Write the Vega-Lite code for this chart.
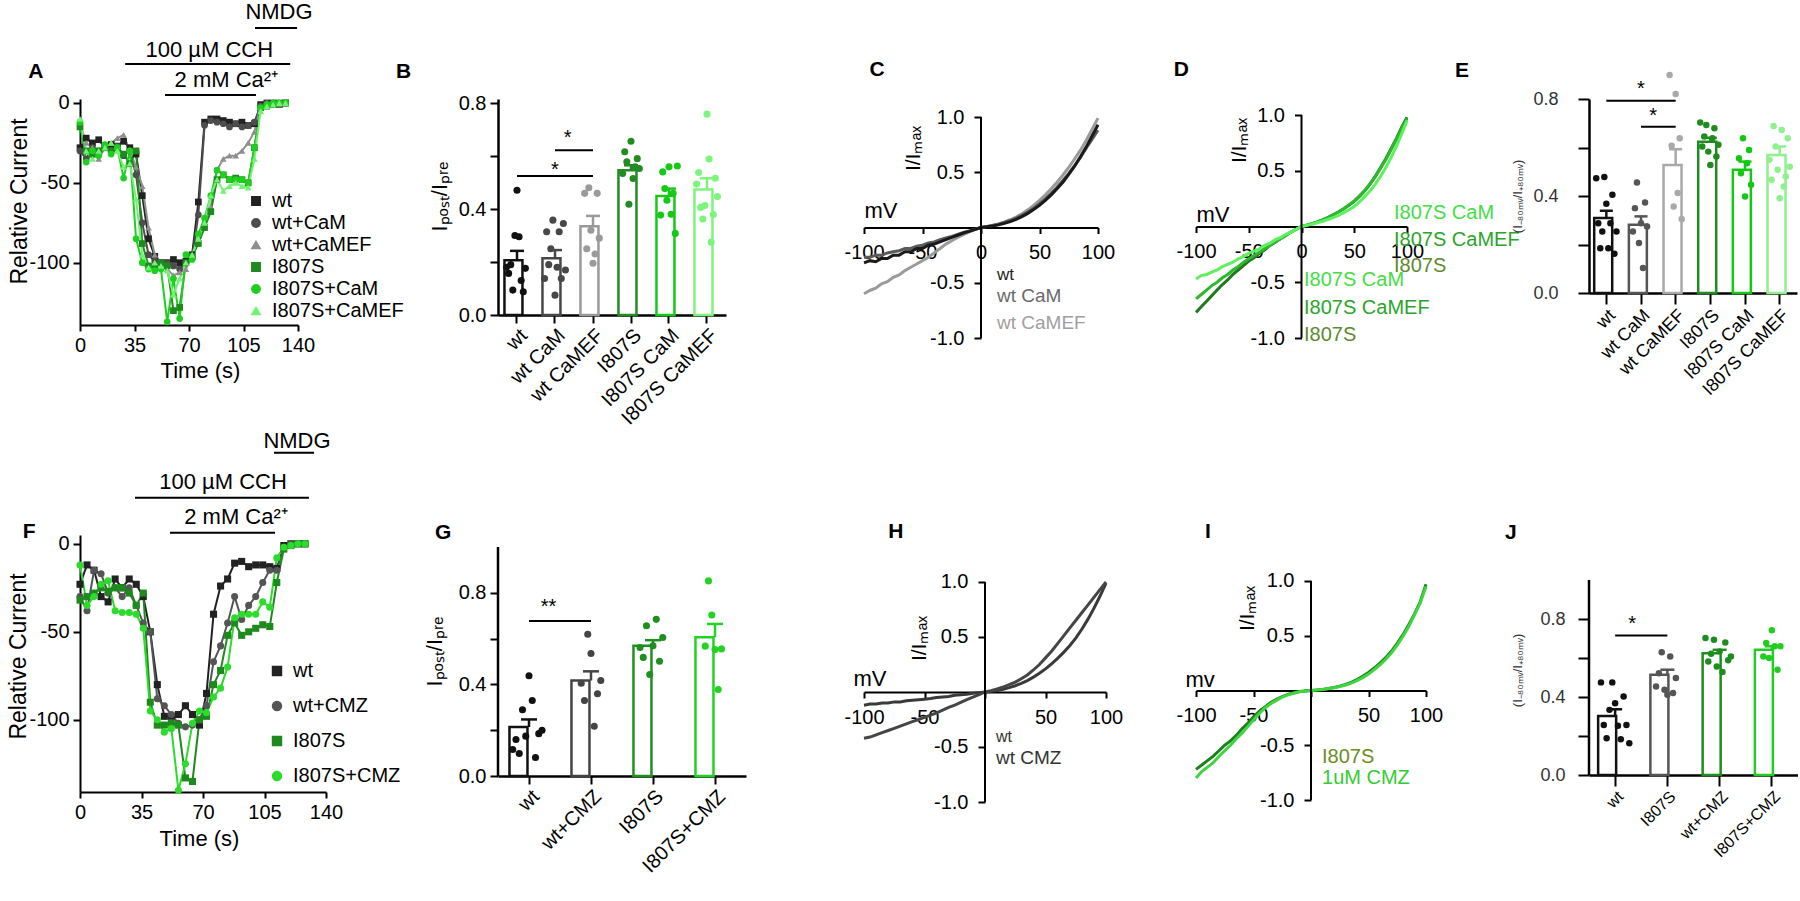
{
"$schema": "https://vega.github.io/schema/vega-lite/v6.json",
"background": "#ffffff",
"padding": 0,
"columns": 10,
"spacing": 0,
"align": "each",
"bounds": "flush",
"resolve": {"scale": {"fill": "independent", "stroke": "independent", "shape": "independent", "color": "independent", "xOffset": "independent", "x": "independent", "y": "independent"}, "legend": {"fill": "independent", "shape": "independent", "stroke": "independent", "color": "independent"}},
"config": {
  "view": {"stroke": null},
  "font": "Liberation Sans",
  "axis": {"domainColor": "#000", "domainWidth": 2, "tickColor": "#000", "tickWidth": 2, "tickSize": 7, "labelColor": "#000", "titleColor": "#000", "labelFont": "Liberation Sans", "titleFont": "Liberation Sans", "labelFontSize": 20, "titleFontSize": 21, "titleFontWeight": "normal", "grid": false, "labelPadding": 4},
  "legend": {"labelFont": "Liberation Sans", "labelColor": "#000"},
  "title": {"font": "Liberation Sans", "fontSize": 21, "fontWeight": "bold", "anchor": "start", "frame": "group", "color": "#000"}
},
"datasets": {
"tcA": [
{"s":"wt","t":0,"v":-28},{"s":"wt","t":4,"v":-22},{"s":"wt","t":8,"v":-25},{"s":"wt","t":12,"v":-23},{"s":"wt","t":16,"v":-28},{"s":"wt","t":20,"v":-26},{"s":"wt","t":24,"v":-27},{"s":"wt","t":28,"v":-24},{"s":"wt","t":32,"v":-28},{"s":"wt","t":36,"v":-32},{"s":"wt","t":40,"v":-58},{"s":"wt","t":44,"v":-85},{"s":"wt","t":48,"v":-96},{"s":"wt","t":52,"v":-100},{"s":"wt","t":56,"v":-100},{"s":"wt","t":60,"v":-98},{"s":"wt","t":64,"v":-100},{"s":"wt","t":68,"v":-99},{"s":"wt","t":72,"v":-95},{"s":"wt","t":76,"v":-62},{"s":"wt","t":80,"v":-12},{"s":"wt","t":84,"v":-10},{"s":"wt","t":88,"v":-10},{"s":"wt","t":92,"v":-11},{"s":"wt","t":96,"v":-12},{"s":"wt","t":100,"v":-13},{"s":"wt","t":104,"v":-12},{"s":"wt","t":108,"v":-14},{"s":"wt","t":112,"v":-13},{"s":"wt","t":116,"v":-1},{"s":"wt","t":120,"v":0},{"s":"wt","t":124,"v":0},{"s":"wt","t":128,"v":-1},{"s":"wt","t":132,"v":0},
{"s":"wt+CaM","t":0,"v":-30},{"s":"wt+CaM","t":4,"v":-35},{"s":"wt+CaM","t":8,"v":-28},{"s":"wt+CaM","t":12,"v":-30},{"s":"wt+CaM","t":16,"v":-28},{"s":"wt+CaM","t":20,"v":-30},{"s":"wt+CaM","t":24,"v":-27},{"s":"wt+CaM","t":28,"v":-33},{"s":"wt+CaM","t":32,"v":-30},{"s":"wt+CaM","t":36,"v":-45},{"s":"wt+CaM","t":40,"v":-75},{"s":"wt+CaM","t":44,"v":-95},{"s":"wt+CaM","t":48,"v":-99},{"s":"wt+CaM","t":52,"v":-100},{"s":"wt+CaM","t":56,"v":-100},{"s":"wt+CaM","t":60,"v":-102},{"s":"wt+CaM","t":64,"v":-104},{"s":"wt+CaM","t":68,"v":-100},{"s":"wt+CaM","t":72,"v":-97},{"s":"wt+CaM","t":76,"v":-70},{"s":"wt+CaM","t":80,"v":-14},{"s":"wt+CaM","t":84,"v":-11},{"s":"wt+CaM","t":88,"v":-12},{"s":"wt+CaM","t":92,"v":-13},{"s":"wt+CaM","t":96,"v":-15},{"s":"wt+CaM","t":100,"v":-13},{"s":"wt+CaM","t":104,"v":-15},{"s":"wt+CaM","t":108,"v":-14},{"s":"wt+CaM","t":112,"v":-12},{"s":"wt+CaM","t":116,"v":-2},{"s":"wt+CaM","t":120,"v":0},{"s":"wt+CaM","t":124,"v":0},{"s":"wt+CaM","t":128,"v":0},{"s":"wt+CaM","t":132,"v":0},
{"s":"wt+CaMEF","t":0,"v":-13},{"s":"wt+CaMEF","t":4,"v":-25},{"s":"wt+CaMEF","t":8,"v":-28},{"s":"wt+CaMEF","t":12,"v":-35},{"s":"wt+CaMEF","t":16,"v":-28},{"s":"wt+CaMEF","t":20,"v":-25},{"s":"wt+CaMEF","t":24,"v":-22},{"s":"wt+CaMEF","t":28,"v":-20},{"s":"wt+CaMEF","t":32,"v":-30},{"s":"wt+CaMEF","t":36,"v":-40},{"s":"wt+CaMEF","t":40,"v":-52},{"s":"wt+CaMEF","t":44,"v":-78},{"s":"wt+CaMEF","t":48,"v":-95},{"s":"wt+CaMEF","t":52,"v":-100},{"s":"wt+CaMEF","t":56,"v":-104},{"s":"wt+CaMEF","t":60,"v":-108},{"s":"wt+CaMEF","t":64,"v":-106},{"s":"wt+CaMEF","t":68,"v":-104},{"s":"wt+CaMEF","t":72,"v":-95},{"s":"wt+CaMEF","t":76,"v":-85},{"s":"wt+CaMEF","t":80,"v":-75},{"s":"wt+CaMEF","t":84,"v":-65},{"s":"wt+CaMEF","t":88,"v":-42},{"s":"wt+CaMEF","t":92,"v":-35},{"s":"wt+CaMEF","t":96,"v":-33},{"s":"wt+CaMEF","t":100,"v":-33},{"s":"wt+CaMEF","t":104,"v":-30},{"s":"wt+CaMEF","t":108,"v":-25},{"s":"wt+CaMEF","t":112,"v":-18},{"s":"wt+CaMEF","t":116,"v":-2},{"s":"wt+CaMEF","t":120,"v":0},{"s":"wt+CaMEF","t":124,"v":0},{"s":"wt+CaMEF","t":128,"v":-1},{"s":"wt+CaMEF","t":132,"v":0},
{"s":"I807S","t":0,"v":-15},{"s":"I807S","t":4,"v":-30},{"s":"I807S","t":8,"v":-32},{"s":"I807S","t":12,"v":-30},{"s":"I807S","t":16,"v":-28},{"s":"I807S","t":20,"v":-30},{"s":"I807S","t":24,"v":-28},{"s":"I807S","t":28,"v":-32},{"s":"I807S","t":32,"v":-38},{"s":"I807S","t":36,"v":-30},{"s":"I807S","t":40,"v":-88},{"s":"I807S","t":44,"v":-102},{"s":"I807S","t":48,"v":-103},{"s":"I807S","t":52,"v":-100},{"s":"I807S","t":56,"v":-102},{"s":"I807S","t":60,"v":-130},{"s":"I807S","t":64,"v":-128},{"s":"I807S","t":68,"v":-100},{"s":"I807S","t":72,"v":-96},{"s":"I807S","t":76,"v":-88},{"s":"I807S","t":80,"v":-78},{"s":"I807S","t":84,"v":-68},{"s":"I807S","t":88,"v":-48},{"s":"I807S","t":92,"v":-45},{"s":"I807S","t":96,"v":-48},{"s":"I807S","t":100,"v":-47},{"s":"I807S","t":104,"v":-48},{"s":"I807S","t":108,"v":-50},{"s":"I807S","t":112,"v":-28},{"s":"I807S","t":116,"v":-3},{"s":"I807S","t":120,"v":-2},{"s":"I807S","t":124,"v":-1},{"s":"I807S","t":128,"v":0},{"s":"I807S","t":132,"v":0},
{"s":"I807S+CaM","t":0,"v":-12},{"s":"I807S+CaM","t":4,"v":-37},{"s":"I807S+CaM","t":8,"v":-30},{"s":"I807S+CaM","t":12,"v":-33},{"s":"I807S+CaM","t":16,"v":-26},{"s":"I807S+CaM","t":20,"v":-32},{"s":"I807S+CaM","t":24,"v":-28},{"s":"I807S+CaM","t":28,"v":-47},{"s":"I807S+CaM","t":32,"v":-30},{"s":"I807S+CaM","t":36,"v":-85},{"s":"I807S+CaM","t":40,"v":-100},{"s":"I807S+CaM","t":44,"v":-104},{"s":"I807S+CaM","t":48,"v":-105},{"s":"I807S+CaM","t":52,"v":-104},{"s":"I807S+CaM","t":56,"v":-137},{"s":"I807S+CaM","t":60,"v":-110},{"s":"I807S+CaM","t":64,"v":-135},{"s":"I807S+CaM","t":68,"v":-95},{"s":"I807S+CaM","t":72,"v":-98},{"s":"I807S+CaM","t":76,"v":-82},{"s":"I807S+CaM","t":80,"v":-72},{"s":"I807S+CaM","t":84,"v":-58},{"s":"I807S+CaM","t":88,"v":-42},{"s":"I807S+CaM","t":92,"v":-45},{"s":"I807S+CaM","t":96,"v":-48},{"s":"I807S+CaM","t":100,"v":-48},{"s":"I807S+CaM","t":104,"v":-48},{"s":"I807S+CaM","t":108,"v":-50},{"s":"I807S+CaM","t":112,"v":-28},{"s":"I807S+CaM","t":116,"v":-3},{"s":"I807S+CaM","t":120,"v":-1},{"s":"I807S+CaM","t":124,"v":0},{"s":"I807S+CaM","t":128,"v":0},{"s":"I807S+CaM","t":132,"v":0},
{"s":"I807S+CaMEF","t":0,"v":-10},{"s":"I807S+CaMEF","t":4,"v":-30},{"s":"I807S+CaMEF","t":8,"v":-35},{"s":"I807S+CaMEF","t":12,"v":-30},{"s":"I807S+CaMEF","t":16,"v":-28},{"s":"I807S+CaMEF","t":20,"v":-25},{"s":"I807S+CaMEF","t":24,"v":-30},{"s":"I807S+CaMEF","t":28,"v":-40},{"s":"I807S+CaMEF","t":32,"v":-38},{"s":"I807S+CaMEF","t":36,"v":-60},{"s":"I807S+CaMEF","t":40,"v":-95},{"s":"I807S+CaMEF","t":44,"v":-103},{"s":"I807S+CaMEF","t":48,"v":-100},{"s":"I807S+CaMEF","t":52,"v":-102},{"s":"I807S+CaMEF","t":56,"v":-105},{"s":"I807S+CaMEF","t":60,"v":-120},{"s":"I807S+CaMEF","t":64,"v":-110},{"s":"I807S+CaMEF","t":68,"v":-100},{"s":"I807S+CaMEF","t":72,"v":-95},{"s":"I807S+CaMEF","t":76,"v":-85},{"s":"I807S+CaMEF","t":80,"v":-75},{"s":"I807S+CaMEF","t":84,"v":-58},{"s":"I807S+CaMEF","t":88,"v":-48},{"s":"I807S+CaMEF","t":92,"v":-55},{"s":"I807S+CaMEF","t":96,"v":-52},{"s":"I807S+CaMEF","t":100,"v":-50},{"s":"I807S+CaMEF","t":104,"v":-52},{"s":"I807S+CaMEF","t":108,"v":-53},{"s":"I807S+CaMEF","t":112,"v":-35},{"s":"I807S+CaMEF","t":116,"v":-5},{"s":"I807S+CaMEF","t":120,"v":-2},{"s":"I807S+CaMEF","t":124,"v":-1},{"s":"I807S+CaMEF","t":128,"v":0},{"s":"I807S+CaMEF","t":132,"v":0}
],
"tcF": [
{"s":"wt","t":0,"v":-23},{"s":"wt","t":4,"v":-12},{"s":"wt","t":8,"v":-15},{"s":"wt","t":12,"v":-30},{"s":"wt","t":16,"v":-33},{"s":"wt","t":20,"v":-20},{"s":"wt","t":24,"v":-25},{"s":"wt","t":28,"v":-20},{"s":"wt","t":32,"v":-23},{"s":"wt","t":36,"v":-30},{"s":"wt","t":40,"v":-50},{"s":"wt","t":44,"v":-80},{"s":"wt","t":48,"v":-98},{"s":"wt","t":52,"v":-98},{"s":"wt","t":56,"v":-97},{"s":"wt","t":60,"v":-92},{"s":"wt","t":64,"v":-97},{"s":"wt","t":68,"v":-103},{"s":"wt","t":72,"v":-85},{"s":"wt","t":76,"v":-40},{"s":"wt","t":80,"v":-24},{"s":"wt","t":84,"v":-20},{"s":"wt","t":88,"v":-11},{"s":"wt","t":92,"v":-10},{"s":"wt","t":96,"v":-13},{"s":"wt","t":100,"v":-12},{"s":"wt","t":104,"v":-12},{"s":"wt","t":108,"v":-13},{"s":"wt","t":112,"v":-14},{"s":"wt","t":116,"v":-1},{"s":"wt","t":120,"v":0},{"s":"wt","t":124,"v":0},{"s":"wt","t":128,"v":0},
{"s":"wt+CMZ","t":0,"v":-30},{"s":"wt+CMZ","t":4,"v":-38},{"s":"wt+CMZ","t":8,"v":-15},{"s":"wt+CMZ","t":12,"v":-17},{"s":"wt+CMZ","t":16,"v":-28},{"s":"wt+CMZ","t":20,"v":-25},{"s":"wt+CMZ","t":24,"v":-30},{"s":"wt+CMZ","t":28,"v":-25},{"s":"wt+CMZ","t":32,"v":-35},{"s":"wt+CMZ","t":36,"v":-45},{"s":"wt+CMZ","t":40,"v":-50},{"s":"wt+CMZ","t":44,"v":-88},{"s":"wt+CMZ","t":48,"v":-92},{"s":"wt+CMZ","t":52,"v":-97},{"s":"wt+CMZ","t":56,"v":-102},{"s":"wt+CMZ","t":60,"v":-104},{"s":"wt+CMZ","t":64,"v":-103},{"s":"wt+CMZ","t":68,"v":-100},{"s":"wt+CMZ","t":72,"v":-92},{"s":"wt+CMZ","t":76,"v":-67},{"s":"wt+CMZ","t":80,"v":-58},{"s":"wt+CMZ","t":84,"v":-45},{"s":"wt+CMZ","t":88,"v":-30},{"s":"wt+CMZ","t":92,"v":-43},{"s":"wt+CMZ","t":96,"v":-35},{"s":"wt+CMZ","t":100,"v":-30},{"s":"wt+CMZ","t":104,"v":-22},{"s":"wt+CMZ","t":108,"v":-15},{"s":"wt+CMZ","t":112,"v":-15},{"s":"wt+CMZ","t":116,"v":-2},{"s":"wt+CMZ","t":120,"v":0},{"s":"wt+CMZ","t":124,"v":0},{"s":"wt+CMZ","t":128,"v":0},
{"s":"I807S","t":0,"v":-32},{"s":"I807S","t":4,"v":-30},{"s":"I807S","t":8,"v":-28},{"s":"I807S","t":12,"v":-25},{"s":"I807S","t":16,"v":-27},{"s":"I807S","t":20,"v":-25},{"s":"I807S","t":24,"v":-25},{"s":"I807S","t":28,"v":-28},{"s":"I807S","t":32,"v":-35},{"s":"I807S","t":36,"v":-28},{"s":"I807S","t":40,"v":-90},{"s":"I807S","t":44,"v":-103},{"s":"I807S","t":48,"v":-103},{"s":"I807S","t":52,"v":-102},{"s":"I807S","t":56,"v":-103},{"s":"I807S","t":60,"v":-133},{"s":"I807S","t":64,"v":-135},{"s":"I807S","t":68,"v":-100},{"s":"I807S","t":72,"v":-98},{"s":"I807S","t":76,"v":-80},{"s":"I807S","t":80,"v":-72},{"s":"I807S","t":84,"v":-52},{"s":"I807S","t":88,"v":-45},{"s":"I807S","t":92,"v":-52},{"s":"I807S","t":96,"v":-50},{"s":"I807S","t":100,"v":-48},{"s":"I807S","t":104,"v":-46},{"s":"I807S","t":108,"v":-47},{"s":"I807S","t":112,"v":-22},{"s":"I807S","t":116,"v":-3},{"s":"I807S","t":120,"v":-1},{"s":"I807S","t":124,"v":0},{"s":"I807S","t":128,"v":0},
{"s":"I807S+CMZ","t":0,"v":-12},{"s":"I807S+CMZ","t":4,"v":-35},{"s":"I807S+CMZ","t":8,"v":-30},{"s":"I807S+CMZ","t":12,"v":-23},{"s":"I807S+CMZ","t":16,"v":-21},{"s":"I807S+CMZ","t":20,"v":-38},{"s":"I807S+CMZ","t":24,"v":-39},{"s":"I807S+CMZ","t":28,"v":-39},{"s":"I807S+CMZ","t":32,"v":-40},{"s":"I807S+CMZ","t":36,"v":-48},{"s":"I807S+CMZ","t":40,"v":-95},{"s":"I807S+CMZ","t":44,"v":-100},{"s":"I807S+CMZ","t":48,"v":-107},{"s":"I807S+CMZ","t":52,"v":-105},{"s":"I807S+CMZ","t":56,"v":-140},{"s":"I807S+CMZ","t":60,"v":-125},{"s":"I807S+CMZ","t":64,"v":-102},{"s":"I807S+CMZ","t":68,"v":-95},{"s":"I807S+CMZ","t":72,"v":-96},{"s":"I807S+CMZ","t":76,"v":-87},{"s":"I807S+CMZ","t":80,"v":-82},{"s":"I807S+CMZ","t":84,"v":-70},{"s":"I807S+CMZ","t":88,"v":-42},{"s":"I807S+CMZ","t":92,"v":-40},{"s":"I807S+CMZ","t":96,"v":-40},{"s":"I807S+CMZ","t":100,"v":-40},{"s":"I807S+CMZ","t":104,"v":-33},{"s":"I807S+CMZ","t":108,"v":-36},{"s":"I807S+CMZ","t":112,"v":-8},{"s":"I807S+CMZ","t":116,"v":-2},{"s":"I807S+CMZ","t":120,"v":-1},{"s":"I807S+CMZ","t":124,"v":0},{"s":"I807S+CMZ","t":128,"v":0}
],
"ivC": [
{"s":"wt CaMEF","v":-100,"i":-0.6},{"s":"wt CaMEF","v":-95,"i":-0.57},{"s":"wt CaMEF","v":-90,"i":-0.55},{"s":"wt CaMEF","v":-85,"i":-0.51},{"s":"wt CaMEF","v":-80,"i":-0.49},{"s":"wt CaMEF","v":-75,"i":-0.45},{"s":"wt CaMEF","v":-70,"i":-0.43},{"s":"wt CaMEF","v":-65,"i":-0.39},{"s":"wt CaMEF","v":-60,"i":-0.36},{"s":"wt CaMEF","v":-55,"i":-0.33},{"s":"wt CaMEF","v":-50,"i":-0.3},{"s":"wt CaMEF","v":-45,"i":-0.27},{"s":"wt CaMEF","v":-40,"i":-0.23},{"s":"wt CaMEF","v":-35,"i":-0.19},{"s":"wt CaMEF","v":-30,"i":-0.15},{"s":"wt CaMEF","v":-25,"i":-0.12},{"s":"wt CaMEF","v":-20,"i":-0.09},{"s":"wt CaMEF","v":-15,"i":-0.065},{"s":"wt CaMEF","v":-10,"i":-0.04},{"s":"wt CaMEF","v":-5,"i":-0.02},{"s":"wt CaMEF","v":0,"i":0},{"s":"wt CaMEF","v":5,"i":0.01},{"s":"wt CaMEF","v":10,"i":0.02},{"s":"wt CaMEF","v":15,"i":0.033},{"s":"wt CaMEF","v":20,"i":0.05},{"s":"wt CaMEF","v":25,"i":0.07},{"s":"wt CaMEF","v":30,"i":0.095},{"s":"wt CaMEF","v":35,"i":0.125},{"s":"wt CaMEF","v":40,"i":0.16},{"s":"wt CaMEF","v":45,"i":0.2},{"s":"wt CaMEF","v":50,"i":0.245},{"s":"wt CaMEF","v":55,"i":0.295},{"s":"wt CaMEF","v":60,"i":0.35},{"s":"wt CaMEF","v":65,"i":0.41},{"s":"wt CaMEF","v":70,"i":0.475},{"s":"wt CaMEF","v":75,"i":0.545},{"s":"wt CaMEF","v":80,"i":0.62},{"s":"wt CaMEF","v":85,"i":0.7},{"s":"wt CaMEF","v":90,"i":0.79},{"s":"wt CaMEF","v":95,"i":0.89},{"s":"wt CaMEF","v":100,"i":0.99},
{"s":"wt CaM","v":-100,"i":-0.27},{"s":"wt CaM","v":-95,"i":-0.27},{"s":"wt CaM","v":-90,"i":-0.25},{"s":"wt CaM","v":-85,"i":-0.25},{"s":"wt CaM","v":-80,"i":-0.23},{"s":"wt CaM","v":-75,"i":-0.22},{"s":"wt CaM","v":-70,"i":-0.21},{"s":"wt CaM","v":-65,"i":-0.19},{"s":"wt CaM","v":-60,"i":-0.19},{"s":"wt CaM","v":-55,"i":-0.17},{"s":"wt CaM","v":-50,"i":-0.16},{"s":"wt CaM","v":-45,"i":-0.14},{"s":"wt CaM","v":-40,"i":-0.13},{"s":"wt CaM","v":-35,"i":-0.11},{"s":"wt CaM","v":-30,"i":-0.095},{"s":"wt CaM","v":-25,"i":-0.08},{"s":"wt CaM","v":-20,"i":-0.063},{"s":"wt CaM","v":-15,"i":-0.045},{"s":"wt CaM","v":-10,"i":-0.03},{"s":"wt CaM","v":-5,"i":-0.015},{"s":"wt CaM","v":0,"i":0},{"s":"wt CaM","v":5,"i":0.008},{"s":"wt CaM","v":10,"i":0.018},{"s":"wt CaM","v":15,"i":0.03},{"s":"wt CaM","v":20,"i":0.045},{"s":"wt CaM","v":25,"i":0.063},{"s":"wt CaM","v":30,"i":0.085},{"s":"wt CaM","v":35,"i":0.11},{"s":"wt CaM","v":40,"i":0.14},{"s":"wt CaM","v":45,"i":0.175},{"s":"wt CaM","v":50,"i":0.215},{"s":"wt CaM","v":55,"i":0.26},{"s":"wt CaM","v":60,"i":0.31},{"s":"wt CaM","v":65,"i":0.365},{"s":"wt CaM","v":70,"i":0.425},{"s":"wt CaM","v":75,"i":0.49},{"s":"wt CaM","v":80,"i":0.56},{"s":"wt CaM","v":85,"i":0.635},{"s":"wt CaM","v":90,"i":0.72},{"s":"wt CaM","v":95,"i":0.8},{"s":"wt CaM","v":100,"i":0.88},
{"s":"wt","v":-100,"i":-0.32},{"s":"wt","v":-95,"i":-0.3},{"s":"wt","v":-90,"i":-0.31},{"s":"wt","v":-85,"i":-0.28},{"s":"wt","v":-80,"i":-0.28},{"s":"wt","v":-75,"i":-0.25},{"s":"wt","v":-70,"i":-0.25},{"s":"wt","v":-65,"i":-0.22},{"s":"wt","v":-60,"i":-0.22},{"s":"wt","v":-55,"i":-0.19},{"s":"wt","v":-50,"i":-0.19},{"s":"wt","v":-45,"i":-0.16},{"s":"wt","v":-40,"i":-0.15},{"s":"wt","v":-35,"i":-0.13},{"s":"wt","v":-30,"i":-0.11},{"s":"wt","v":-25,"i":-0.09},{"s":"wt","v":-20,"i":-0.07},{"s":"wt","v":-15,"i":-0.05},{"s":"wt","v":-10,"i":-0.035},{"s":"wt","v":-5,"i":-0.017},{"s":"wt","v":0,"i":0},{"s":"wt","v":5,"i":0.006},{"s":"wt","v":10,"i":0.014},{"s":"wt","v":15,"i":0.024},{"s":"wt","v":20,"i":0.037},{"s":"wt","v":25,"i":0.053},{"s":"wt","v":30,"i":0.073},{"s":"wt","v":35,"i":0.098},{"s":"wt","v":40,"i":0.128},{"s":"wt","v":45,"i":0.163},{"s":"wt","v":50,"i":0.2},{"s":"wt","v":55,"i":0.245},{"s":"wt","v":60,"i":0.295},{"s":"wt","v":65,"i":0.35},{"s":"wt","v":70,"i":0.41},{"s":"wt","v":75,"i":0.48},{"s":"wt","v":80,"i":0.555},{"s":"wt","v":85,"i":0.64},{"s":"wt","v":90,"i":0.73},{"s":"wt","v":95,"i":0.83},{"s":"wt","v":100,"i":0.93}
],
"ivD": [
{"s":"I807S","v":-100,"i":-0.77},{"s":"I807S","v":-95,"i":-0.72},{"s":"I807S","v":-90,"i":-0.67},{"s":"I807S","v":-85,"i":-0.62},{"s":"I807S","v":-80,"i":-0.57},{"s":"I807S","v":-75,"i":-0.52},{"s":"I807S","v":-70,"i":-0.48},{"s":"I807S","v":-65,"i":-0.43},{"s":"I807S","v":-60,"i":-0.39},{"s":"I807S","v":-55,"i":-0.35},{"s":"I807S","v":-50,"i":-0.31},{"s":"I807S","v":-45,"i":-0.28},{"s":"I807S","v":-40,"i":-0.24},{"s":"I807S","v":-35,"i":-0.21},{"s":"I807S","v":-30,"i":-0.17},{"s":"I807S","v":-25,"i":-0.14},{"s":"I807S","v":-20,"i":-0.11},{"s":"I807S","v":-15,"i":-0.08},{"s":"I807S","v":-10,"i":-0.05},{"s":"I807S","v":-5,"i":-0.025},{"s":"I807S","v":0,"i":0},{"s":"I807S","v":5,"i":0.012},{"s":"I807S","v":10,"i":0.026},{"s":"I807S","v":15,"i":0.042},{"s":"I807S","v":20,"i":0.06},{"s":"I807S","v":25,"i":0.08},{"s":"I807S","v":30,"i":0.105},{"s":"I807S","v":35,"i":0.13},{"s":"I807S","v":40,"i":0.16},{"s":"I807S","v":45,"i":0.19},{"s":"I807S","v":50,"i":0.225},{"s":"I807S","v":55,"i":0.27},{"s":"I807S","v":60,"i":0.32},{"s":"I807S","v":65,"i":0.38},{"s":"I807S","v":70,"i":0.45},{"s":"I807S","v":75,"i":0.53},{"s":"I807S","v":80,"i":0.61},{"s":"I807S","v":85,"i":0.7},{"s":"I807S","v":90,"i":0.79},{"s":"I807S","v":95,"i":0.89},{"s":"I807S","v":100,"i":0.98},
{"s":"I807S CaMEF","v":-100,"i":-0.65},{"s":"I807S CaMEF","v":-95,"i":-0.61},{"s":"I807S CaMEF","v":-90,"i":-0.57},{"s":"I807S CaMEF","v":-85,"i":-0.53},{"s":"I807S CaMEF","v":-80,"i":-0.5},{"s":"I807S CaMEF","v":-75,"i":-0.46},{"s":"I807S CaMEF","v":-70,"i":-0.43},{"s":"I807S CaMEF","v":-65,"i":-0.39},{"s":"I807S CaMEF","v":-60,"i":-0.36},{"s":"I807S CaMEF","v":-55,"i":-0.32},{"s":"I807S CaMEF","v":-50,"i":-0.29},{"s":"I807S CaMEF","v":-45,"i":-0.26},{"s":"I807S CaMEF","v":-40,"i":-0.23},{"s":"I807S CaMEF","v":-35,"i":-0.2},{"s":"I807S CaMEF","v":-30,"i":-0.17},{"s":"I807S CaMEF","v":-25,"i":-0.14},{"s":"I807S CaMEF","v":-20,"i":-0.11},{"s":"I807S CaMEF","v":-15,"i":-0.08},{"s":"I807S CaMEF","v":-10,"i":-0.05},{"s":"I807S CaMEF","v":-5,"i":-0.025},{"s":"I807S CaMEF","v":0,"i":0},{"s":"I807S CaMEF","v":5,"i":0.012},{"s":"I807S CaMEF","v":10,"i":0.026},{"s":"I807S CaMEF","v":15,"i":0.042},{"s":"I807S CaMEF","v":20,"i":0.06},{"s":"I807S CaMEF","v":25,"i":0.08},{"s":"I807S CaMEF","v":30,"i":0.105},{"s":"I807S CaMEF","v":35,"i":0.13},{"s":"I807S CaMEF","v":40,"i":0.16},{"s":"I807S CaMEF","v":45,"i":0.195},{"s":"I807S CaMEF","v":50,"i":0.23},{"s":"I807S CaMEF","v":55,"i":0.275},{"s":"I807S CaMEF","v":60,"i":0.325},{"s":"I807S CaMEF","v":65,"i":0.385},{"s":"I807S CaMEF","v":70,"i":0.45},{"s":"I807S CaMEF","v":75,"i":0.525},{"s":"I807S CaMEF","v":80,"i":0.6},{"s":"I807S CaMEF","v":85,"i":0.69},{"s":"I807S CaMEF","v":90,"i":0.78},{"s":"I807S CaMEF","v":95,"i":0.88},{"s":"I807S CaMEF","v":100,"i":0.97},
{"s":"I807S CaM","v":-100,"i":-0.47},{"s":"I807S CaM","v":-95,"i":-0.44},{"s":"I807S CaM","v":-90,"i":-0.43},{"s":"I807S CaM","v":-85,"i":-0.41},{"s":"I807S CaM","v":-80,"i":-0.39},{"s":"I807S CaM","v":-75,"i":-0.36},{"s":"I807S CaM","v":-70,"i":-0.34},{"s":"I807S CaM","v":-65,"i":-0.32},{"s":"I807S CaM","v":-60,"i":-0.29},{"s":"I807S CaM","v":-55,"i":-0.27},{"s":"I807S CaM","v":-50,"i":-0.24},{"s":"I807S CaM","v":-45,"i":-0.22},{"s":"I807S CaM","v":-40,"i":-0.2},{"s":"I807S CaM","v":-35,"i":-0.17},{"s":"I807S CaM","v":-30,"i":-0.15},{"s":"I807S CaM","v":-25,"i":-0.12},{"s":"I807S CaM","v":-20,"i":-0.1},{"s":"I807S CaM","v":-15,"i":-0.07},{"s":"I807S CaM","v":-10,"i":-0.05},{"s":"I807S CaM","v":-5,"i":-0.025},{"s":"I807S CaM","v":0,"i":0},{"s":"I807S CaM","v":5,"i":0.01},{"s":"I807S CaM","v":10,"i":0.02},{"s":"I807S CaM","v":15,"i":0.033},{"s":"I807S CaM","v":20,"i":0.047},{"s":"I807S CaM","v":25,"i":0.063},{"s":"I807S CaM","v":30,"i":0.08},{"s":"I807S CaM","v":35,"i":0.1},{"s":"I807S CaM","v":40,"i":0.125},{"s":"I807S CaM","v":45,"i":0.15},{"s":"I807S CaM","v":50,"i":0.18},{"s":"I807S CaM","v":55,"i":0.22},{"s":"I807S CaM","v":60,"i":0.27},{"s":"I807S CaM","v":65,"i":0.32},{"s":"I807S CaM","v":70,"i":0.38},{"s":"I807S CaM","v":75,"i":0.45},{"s":"I807S CaM","v":80,"i":0.53},{"s":"I807S CaM","v":85,"i":0.62},{"s":"I807S CaM","v":90,"i":0.72},{"s":"I807S CaM","v":95,"i":0.83},{"s":"I807S CaM","v":100,"i":0.95}
],
"ivH": [
{"s":"wt","v":-100,"i":-0.12},{"s":"wt","v":-95,"i":-0.11},{"s":"wt","v":-90,"i":-0.11},{"s":"wt","v":-85,"i":-0.1},{"s":"wt","v":-80,"i":-0.1},{"s":"wt","v":-75,"i":-0.09},{"s":"wt","v":-70,"i":-0.09},{"s":"wt","v":-65,"i":-0.08},{"s":"wt","v":-60,"i":-0.075},{"s":"wt","v":-55,"i":-0.07},{"s":"wt","v":-50,"i":-0.065},{"s":"wt","v":-45,"i":-0.06},{"s":"wt","v":-40,"i":-0.05},{"s":"wt","v":-35,"i":-0.045},{"s":"wt","v":-30,"i":-0.04},{"s":"wt","v":-25,"i":-0.03},{"s":"wt","v":-20,"i":-0.025},{"s":"wt","v":-15,"i":-0.02},{"s":"wt","v":-10,"i":-0.012},{"s":"wt","v":-5,"i":-0.006},{"s":"wt","v":0,"i":0},{"s":"wt","v":5,"i":0.006},{"s":"wt","v":10,"i":0.014},{"s":"wt","v":15,"i":0.025},{"s":"wt","v":20,"i":0.04},{"s":"wt","v":25,"i":0.057},{"s":"wt","v":30,"i":0.078},{"s":"wt","v":35,"i":0.104},{"s":"wt","v":40,"i":0.135},{"s":"wt","v":45,"i":0.17},{"s":"wt","v":50,"i":0.21},{"s":"wt","v":55,"i":0.255},{"s":"wt","v":60,"i":0.305},{"s":"wt","v":65,"i":0.36},{"s":"wt","v":70,"i":0.42},{"s":"wt","v":75,"i":0.49},{"s":"wt","v":80,"i":0.57},{"s":"wt","v":85,"i":0.66},{"s":"wt","v":90,"i":0.76},{"s":"wt","v":95,"i":0.87},{"s":"wt","v":100,"i":0.99},
{"s":"wt CMZ","v":-100,"i":-0.42},{"s":"wt CMZ","v":-95,"i":-0.41},{"s":"wt CMZ","v":-90,"i":-0.39},{"s":"wt CMZ","v":-85,"i":-0.37},{"s":"wt CMZ","v":-80,"i":-0.35},{"s":"wt CMZ","v":-75,"i":-0.33},{"s":"wt CMZ","v":-70,"i":-0.31},{"s":"wt CMZ","v":-65,"i":-0.29},{"s":"wt CMZ","v":-60,"i":-0.27},{"s":"wt CMZ","v":-55,"i":-0.25},{"s":"wt CMZ","v":-50,"i":-0.23},{"s":"wt CMZ","v":-45,"i":-0.21},{"s":"wt CMZ","v":-40,"i":-0.19},{"s":"wt CMZ","v":-35,"i":-0.165},{"s":"wt CMZ","v":-30,"i":-0.14},{"s":"wt CMZ","v":-25,"i":-0.12},{"s":"wt CMZ","v":-20,"i":-0.095},{"s":"wt CMZ","v":-15,"i":-0.07},{"s":"wt CMZ","v":-10,"i":-0.047},{"s":"wt CMZ","v":-5,"i":-0.023},{"s":"wt CMZ","v":0,"i":0},{"s":"wt CMZ","v":5,"i":0.012},{"s":"wt CMZ","v":10,"i":0.027},{"s":"wt CMZ","v":15,"i":0.045},{"s":"wt CMZ","v":20,"i":0.066},{"s":"wt CMZ","v":25,"i":0.09},{"s":"wt CMZ","v":30,"i":0.12},{"s":"wt CMZ","v":35,"i":0.155},{"s":"wt CMZ","v":40,"i":0.2},{"s":"wt CMZ","v":45,"i":0.25},{"s":"wt CMZ","v":50,"i":0.31},{"s":"wt CMZ","v":55,"i":0.37},{"s":"wt CMZ","v":60,"i":0.44},{"s":"wt CMZ","v":65,"i":0.51},{"s":"wt CMZ","v":70,"i":0.58},{"s":"wt CMZ","v":75,"i":0.65},{"s":"wt CMZ","v":80,"i":0.72},{"s":"wt CMZ","v":85,"i":0.79},{"s":"wt CMZ","v":90,"i":0.86},{"s":"wt CMZ","v":95,"i":0.93},{"s":"wt CMZ","v":100,"i":1.0}
],
"ivI": [
{"s":"I807S","v":-100,"i":-0.72},{"s":"I807S","v":-95,"i":-0.68},{"s":"I807S","v":-90,"i":-0.64},{"s":"I807S","v":-85,"i":-0.6},{"s":"I807S","v":-80,"i":-0.55},{"s":"I807S","v":-75,"i":-0.5},{"s":"I807S","v":-70,"i":-0.46},{"s":"I807S","v":-65,"i":-0.41},{"s":"I807S","v":-60,"i":-0.35},{"s":"I807S","v":-55,"i":-0.3},{"s":"I807S","v":-50,"i":-0.24},{"s":"I807S","v":-45,"i":-0.19},{"s":"I807S","v":-40,"i":-0.15},{"s":"I807S","v":-35,"i":-0.11},{"s":"I807S","v":-30,"i":-0.08},{"s":"I807S","v":-25,"i":-0.055},{"s":"I807S","v":-20,"i":-0.035},{"s":"I807S","v":-15,"i":-0.02},{"s":"I807S","v":-10,"i":-0.01},{"s":"I807S","v":-5,"i":-0.004},{"s":"I807S","v":0,"i":0},{"s":"I807S","v":5,"i":0.004},{"s":"I807S","v":10,"i":0.01},{"s":"I807S","v":15,"i":0.018},{"s":"I807S","v":20,"i":0.028},{"s":"I807S","v":25,"i":0.04},{"s":"I807S","v":30,"i":0.055},{"s":"I807S","v":35,"i":0.075},{"s":"I807S","v":40,"i":0.1},{"s":"I807S","v":45,"i":0.13},{"s":"I807S","v":50,"i":0.165},{"s":"I807S","v":55,"i":0.205},{"s":"I807S","v":60,"i":0.25},{"s":"I807S","v":65,"i":0.3},{"s":"I807S","v":70,"i":0.36},{"s":"I807S","v":75,"i":0.43},{"s":"I807S","v":80,"i":0.51},{"s":"I807S","v":85,"i":0.6},{"s":"I807S","v":90,"i":0.7},{"s":"I807S","v":95,"i":0.81},{"s":"I807S","v":100,"i":0.97},
{"s":"1uM CMZ","v":-100,"i":-0.8},{"s":"1uM CMZ","v":-95,"i":-0.74},{"s":"1uM CMZ","v":-90,"i":-0.7},{"s":"1uM CMZ","v":-85,"i":-0.66},{"s":"1uM CMZ","v":-80,"i":-0.6},{"s":"1uM CMZ","v":-75,"i":-0.55},{"s":"1uM CMZ","v":-70,"i":-0.5},{"s":"1uM CMZ","v":-65,"i":-0.44},{"s":"1uM CMZ","v":-60,"i":-0.39},{"s":"1uM CMZ","v":-55,"i":-0.33},{"s":"1uM CMZ","v":-50,"i":-0.27},{"s":"1uM CMZ","v":-45,"i":-0.21},{"s":"1uM CMZ","v":-40,"i":-0.16},{"s":"1uM CMZ","v":-35,"i":-0.12},{"s":"1uM CMZ","v":-30,"i":-0.09},{"s":"1uM CMZ","v":-25,"i":-0.06},{"s":"1uM CMZ","v":-20,"i":-0.04},{"s":"1uM CMZ","v":-15,"i":-0.025},{"s":"1uM CMZ","v":-10,"i":-0.012},{"s":"1uM CMZ","v":-5,"i":-0.005},{"s":"1uM CMZ","v":0,"i":0},{"s":"1uM CMZ","v":5,"i":0.004},{"s":"1uM CMZ","v":10,"i":0.009},{"s":"1uM CMZ","v":15,"i":0.016},{"s":"1uM CMZ","v":20,"i":0.025},{"s":"1uM CMZ","v":25,"i":0.036},{"s":"1uM CMZ","v":30,"i":0.05},{"s":"1uM CMZ","v":35,"i":0.068},{"s":"1uM CMZ","v":40,"i":0.09},{"s":"1uM CMZ","v":45,"i":0.118},{"s":"1uM CMZ","v":50,"i":0.15},{"s":"1uM CMZ","v":55,"i":0.19},{"s":"1uM CMZ","v":60,"i":0.235},{"s":"1uM CMZ","v":65,"i":0.285},{"s":"1uM CMZ","v":70,"i":0.345},{"s":"1uM CMZ","v":75,"i":0.415},{"s":"1uM CMZ","v":80,"i":0.495},{"s":"1uM CMZ","v":85,"i":0.585},{"s":"1uM CMZ","v":90,"i":0.69},{"s":"1uM CMZ","v":95,"i":0.8},{"s":"1uM CMZ","v":100,"i":0.95}
],
"sumB": [{"c":"wt","m":0.207,"u":0.242},{"c":"wt CaM","m":0.214,"u":0.245},{"c":"wt CaMEF","m":0.335,"u":0.374},{"c":"I807S","m":0.546,"u":0.565},{"c":"I807S CaM","m":0.449,"u":0.477},{"c":"I807S CaMEF","m":0.474,"u":0.516}],
"dotB": [
{"c":"wt","r":1,"v":0.18},{"c":"wt","r":2,"v":0.157},{"c":"wt","r":3,"v":0.19},{"c":"wt","r":4,"v":0.094},{"c":"wt","r":5,"v":0.3},{"c":"wt","r":6,"v":0.471},{"c":"wt","r":7,"v":0.295},{"c":"wt","r":8,"v":0.13},{"c":"wt","r":9,"v":0.088},{"c":"wt","r":10,"v":0.176},
{"c":"wt CaM","r":1,"v":0.138},{"c":"wt CaM","r":2,"v":0.314},{"c":"wt CaM","r":3,"v":0.19},{"c":"wt CaM","r":4,"v":0.25},{"c":"wt CaM","r":5,"v":0.358},{"c":"wt CaM","r":6,"v":0.075},{"c":"wt CaM","r":7,"v":0.18},{"c":"wt CaM","r":8,"v":0.314},{"c":"wt CaM","r":9,"v":0.138},{"c":"wt CaM","r":10,"v":0.345},{"c":"wt CaM","r":11,"v":0.17},
{"c":"wt CaMEF","r":2,"v":0.459},{"c":"wt CaMEF","r":3,"v":0.25},{"c":"wt CaMEF","r":4,"v":0.48},{"c":"wt CaMEF","r":5,"v":0.32},{"c":"wt CaMEF","r":6,"v":0.195},{"c":"wt CaMEF","r":7,"v":0.23},{"c":"wt CaMEF","r":8,"v":0.459},{"c":"wt CaMEF","r":9,"v":0.29},
{"c":"I807S","r":2,"v":0.534},{"c":"I807S","r":3,"v":0.616},{"c":"I807S","r":4,"v":0.578},{"c":"I807S","r":5,"v":0.418},{"c":"I807S","r":6,"v":0.656},{"c":"I807S","r":7,"v":0.515},{"c":"I807S","r":8,"v":0.559},{"c":"I807S","r":9,"v":0.59},{"c":"I807S","r":10,"v":0.553},
{"c":"I807S CaM","r":2,"v":0.377},{"c":"I807S CaM","r":3,"v":0.54},{"c":"I807S CaM","r":4,"v":0.477},{"c":"I807S CaM","r":5,"v":0.433},{"c":"I807S CaM","r":6,"v":0.559},{"c":"I807S CaM","r":7,"v":0.38},{"c":"I807S CaM","r":8,"v":0.459},{"c":"I807S CaM","r":9,"v":0.308},{"c":"I807S CaM","r":10,"v":0.562},
{"c":"I807S CaMEF","r":1,"v":0.494},{"c":"I807S CaMEF","r":2,"v":0.538},{"c":"I807S CaMEF","r":3,"v":0.406},{"c":"I807S CaMEF","r":4,"v":0.362},{"c":"I807S CaMEF","r":5,"v":0.413},{"c":"I807S CaMEF","r":6,"v":0.758},{"c":"I807S CaMEF","r":7,"v":0.589},{"c":"I807S CaMEF","r":8,"v":0.275},{"c":"I807S CaMEF","r":9,"v":0.379},{"c":"I807S CaMEF","r":10,"v":0.516},{"c":"I807S CaMEF","r":11,"v":0.447}
],
"sumE": [{"c":"wt","m":0.309,"u":0.339},{"c":"wt CaM","m":0.281,"u":0.316},{"c":"wt CaMEF","m":0.528,"u":0.593},{"c":"I807S","m":0.624,"u":0.64},{"c":"I807S CaM","m":0.508,"u":0.542},{"c":"I807S CaMEF","m":0.569,"u":0.604}],
"dotE": [
{"c":"wt","r":1,"v":0.473},{"c":"wt","r":2,"v":0.288},{"c":"wt","r":3,"v":0.185},{"c":"wt","r":4,"v":0.254},{"c":"wt","r":5,"v":0.478},{"c":"wt","r":6,"v":0.368},{"c":"wt","r":7,"v":0.185},{"c":"wt","r":8,"v":0.288},{"c":"wt","r":9,"v":0.405},{"c":"wt","r":10,"v":0.162},{"c":"wt","r":11,"v":0.254},
{"c":"wt CaM","r":2,"v":0.254},{"c":"wt CaM","r":3,"v":0.35},{"c":"wt CaM","r":4,"v":0.456},{"c":"wt CaM","r":5,"v":0.206},{"c":"wt CaM","r":6,"v":0.288},{"c":"wt CaM","r":7,"v":0.103},{"c":"wt CaM","r":8,"v":0.373},{"c":"wt CaM","r":9,"v":0.274},
{"c":"wt CaMEF","r":3,"v":0.899},{"c":"wt CaMEF","r":4,"v":0.607},{"c":"wt CaMEF","r":5,"v":0.357},{"c":"wt CaMEF","r":6,"v":0.821},{"c":"wt CaMEF","r":7,"v":0.412},{"c":"wt CaMEF","r":8,"v":0.638},{"c":"wt CaMEF","r":9,"v":0.305},
{"c":"I807S","r":1,"v":0.703},{"c":"I807S","r":2,"v":0.604},{"c":"I807S","r":3,"v":0.645},{"c":"I807S","r":4,"v":0.693},{"c":"I807S","r":5,"v":0.583},{"c":"I807S","r":6,"v":0.528},{"c":"I807S","r":7,"v":0.638},{"c":"I807S","r":8,"v":0.679},{"c":"I807S","r":9,"v":0.563},{"c":"I807S","r":10,"v":0.611},
{"c":"I807S CaM","r":3,"v":0.556},{"c":"I807S CaM","r":4,"v":0.494},{"c":"I807S CaM","r":5,"v":0.638},{"c":"I807S CaM","r":6,"v":0.398},{"c":"I807S CaM","r":7,"v":0.535},{"c":"I807S CaM","r":8,"v":0.59},{"c":"I807S CaM","r":9,"v":0.446},
{"c":"I807S CaMEF","r":1,"v":0.549},{"c":"I807S CaMEF","r":2,"v":0.467},{"c":"I807S CaMEF","r":3,"v":0.689},{"c":"I807S CaMEF","r":4,"v":0.604},{"c":"I807S CaMEF","r":5,"v":0.508},{"c":"I807S CaMEF","r":6,"v":0.391},{"c":"I807S CaMEF","r":7,"v":0.672},{"c":"I807S CaMEF","r":8,"v":0.439},{"c":"I807S CaMEF","r":9,"v":0.48},{"c":"I807S CaMEF","r":10,"v":0.638},{"c":"I807S CaMEF","r":11,"v":0.521}
],
"sumG": [{"c":"wt","m":0.214,"u":0.247},{"c":"wt+CMZ","m":0.417,"u":0.457},{"c":"I807S","m":0.569,"u":0.593},{"c":"I807S+CMZ","m":0.606,"u":0.664}],
"dotG": [
{"c":"wt","r":1,"v":0.116},{"c":"wt","r":2,"v":0.159},{"c":"wt","r":3,"v":0.098},{"c":"wt","r":4,"v":0.289},{"c":"wt","r":5,"v":0.174},{"c":"wt","r":6,"v":0.438},{"c":"wt","r":7,"v":0.33},{"c":"wt","r":8,"v":0.081},{"c":"wt","r":9,"v":0.185},{"c":"wt","r":10,"v":0.2},
{"c":"wt+CMZ","r":3,"v":0.405},{"c":"wt+CMZ","r":4,"v":0.33},{"c":"wt+CMZ","r":5,"v":0.619},{"c":"wt+CMZ","r":6,"v":0.535},{"c":"wt+CMZ","r":7,"v":0.217},{"c":"wt+CMZ","r":8,"v":0.359},{"c":"wt+CMZ","r":9,"v":0.417},
{"c":"I807S","r":2,"v":0.561},{"c":"I807S","r":3,"v":0.518},{"c":"I807S","r":4,"v":0.656},{"c":"I807S","r":5,"v":0.443},{"c":"I807S","r":6,"v":0.569},{"c":"I807S","r":7,"v":0.684},{"c":"I807S","r":8,"v":0.501},{"c":"I807S","r":9,"v":0.605},
{"c":"I807S+CMZ","r":3,"v":0.567},{"c":"I807S+CMZ","r":4,"v":0.852},{"c":"I807S+CMZ","r":5,"v":0.703},{"c":"I807S+CMZ","r":6,"v":0.552},{"c":"I807S+CMZ","r":7,"v":0.378},{"c":"I807S+CMZ","r":8,"v":0.555}
],
"sumJ": [{"c":"wt","m":0.303,"u":0.337},{"c":"I807S","m":0.514,"u":0.54},{"c":"wt+CMZ","m":0.625,"u":0.642},{"c":"I807S+CMZ","m":0.642,"u":0.66}],
"dotJ": [
{"c":"wt","r":1,"v":0.475},{"c":"wt","r":2,"v":0.257},{"c":"wt","r":3,"v":0.188},{"c":"wt","r":4,"v":0.334},{"c":"wt","r":5,"v":0.475},{"c":"wt","r":6,"v":0.368},{"c":"wt","r":7,"v":0.252},{"c":"wt","r":8,"v":0.183},{"c":"wt","r":9,"v":0.403},{"c":"wt","r":10,"v":0.257},{"c":"wt","r":11,"v":0.163},
{"c":"I807S","r":2,"v":0.454},{"c":"I807S","r":3,"v":0.522},{"c":"I807S","r":4,"v":0.629},{"c":"I807S","r":5,"v":0.437},{"c":"I807S","r":6,"v":0.411},{"c":"I807S","r":7,"v":0.608},{"c":"I807S","r":8,"v":0.42},{"c":"I807S","r":9,"v":0.497},
{"c":"wt+CMZ","r":1,"v":0.702},{"c":"wt+CMZ","r":2,"v":0.582},{"c":"wt+CMZ","r":3,"v":0.622},{"c":"wt+CMZ","r":4,"v":0.694},{"c":"wt+CMZ","r":5,"v":0.557},{"c":"wt+CMZ","r":6,"v":0.634},{"c":"wt+CMZ","r":7,"v":0.528},{"c":"wt+CMZ","r":8,"v":0.68},{"c":"wt+CMZ","r":9,"v":0.588},{"c":"wt+CMZ","r":10,"v":0.608},
{"c":"I807S+CMZ","r":3,"v":0.608},{"c":"I807S+CMZ","r":4,"v":0.677},{"c":"I807S+CMZ","r":5,"v":0.6},{"c":"I807S+CMZ","r":6,"v":0.742},{"c":"I807S+CMZ","r":7,"v":0.66},{"c":"I807S+CMZ","r":8,"v":0.54},{"c":"I807S+CMZ","r":9,"v":0.66}
]
},
"concat": [
{"width": 1, "height": 99, "mark": {"type": "rule", "opacity": 0}, "encoding": {}},
{"width": 1, "height": 99, "mark": {"type": "rule", "opacity": 0}, "encoding": {}},
{"width": 1, "height": 99, "mark": {"type": "rule", "opacity": 0}, "encoding": {}},
{"width": 1, "height": 99, "mark": {"type": "rule", "opacity": 0}, "encoding": {}},
{"width": 1, "height": 99, "mark": {"type": "rule", "opacity": 0}, "encoding": {}},
{"width": 1, "height": 99, "mark": {"type": "rule", "opacity": 0}, "encoding": {}},
{"width": 1, "height": 99, "mark": {"type": "rule", "opacity": 0}, "encoding": {}},
{"width": 1, "height": 99, "mark": {"type": "rule", "opacity": 0}, "encoding": {}},
{"width": 1, "height": 99, "mark": {"type": "rule", "opacity": 0}, "encoding": {}},
{"width": 1, "height": 99, "mark": {"type": "rule", "opacity": 0}, "encoding": {}},

{"width": 80, "height": 1, "mark": {"type": "rule", "opacity": 0}, "encoding": {}},
{
 "width": 218, "height": 226,
 "layer": [
  {"data": {"name": "tcA"}, "mark": {"type": "line", "strokeWidth": 2, "point": {"filled": true, "size": 45}},
   "encoding": {
    "x": {"field": "t", "type": "quantitative", "scale": {"domain": [0, 140], "nice": false},
      "axis": {"values": [0,17.5,35,52.5,70,87.5,105,122.5,140], "labelExpr": "datum.value % 35 === 0 ? datum.label : ''", "labelFlush": false, "labelOverlap": false, "tickSize": 6, "title": "Time (s)", "titleFontSize": 22, "titleX": 120, "titleY": 45, "titleBaseline": "middle"}},
    "y": {"field": "v", "type": "quantitative", "scale": {"domain": [-139, 2.5], "nice": false},
      "axis": {"values": [0, -50, -100], "labelExpr": "'' + datum.value", "labelOverlap": false, "title": "Relative Current", "titleFontSize": 23, "titleX": -61, "titleY": 102, "titleBaseline": "middle"}},
    "color": {"field": "s", "type": "nominal", "scale": {"domain": ["wt","wt+CaM","wt+CaMEF","I807S","I807S+CaM","I807S+CaMEF"], "range": ["#222222","#4d4d4d","#8f8f8f","#1e8a1e","#1fcf1f","#72f272"]}, "legend": {"title": null, "orient": "none", "legendX": 166, "legendY": 92, "labelFontSize": 20, "symbolSize": 70, "rowPadding": 2, "labelOffset": 6, "padding": 0}},
    "shape": {"field": "s", "type": "nominal", "scale": {"domain": ["wt","wt+CaM","wt+CaMEF","I807S","I807S+CaM","I807S+CaMEF"], "range": ["square","circle","triangle-up","square","circle","triangle-up"]}, "legend": {"title": null, "orient": "none", "legendX": 166, "legendY": 92, "labelFontSize": 20, "symbolSize": 70, "rowPadding": 2, "labelOffset": 6, "padding": 0}}
   }},
  {"data": {"values": [{"t0": 112.4, "t1": 139.4}]}, "mark": {"type": "rule", "strokeWidth": 2, "color": "#000"}, "encoding": {"x": {"field": "t0", "type": "quantitative"}, "x2": {"field": "t1"}, "y": {"datum": 46.9}}},
  {"data": {"values": [{"label": "NMDG", "tm": 127.8}]}, "mark": {"type": "text", "fontSize": 22, "baseline": "middle", "font": "Liberation Sans"}, "encoding": {"x": {"field": "tm", "type": "quantitative"}, "y": {"datum": 56.9}, "text": {"field": "label"}}},
  {"data": {"values": [{"t0": 29, "t1": 135}]}, "mark": {"type": "rule", "strokeWidth": 2, "color": "#000"}, "encoding": {"x": {"field": "t0", "type": "quantitative"}, "x2": {"field": "t1"}, "y": {"datum": 24.4}}},
  {"data": {"values": [{"label": "100 µM CCH", "tm": 83}]}, "mark": {"type": "text", "fontSize": 22, "baseline": "middle", "font": "Liberation Sans"}, "encoding": {"x": {"field": "tm", "type": "quantitative"}, "y": {"datum": 33}, "text": {"field": "label"}}},
  {"data": {"values": [{"t0": 54.6, "t1": 113}]}, "mark": {"type": "rule", "strokeWidth": 2, "color": "#000"}, "encoding": {"x": {"field": "t0", "type": "quantitative"}, "x2": {"field": "t1"}, "y": {"datum": 5}}},
  {"data": {"values": [{"label": "2 mM Ca²⁺", "tm": 94}]}, "mark": {"type": "text", "fontSize": 22, "baseline": "middle", "font": "Liberation Sans"}, "encoding": {"x": {"field": "tm", "type": "quantitative"}, "y": {"datum": 14.4}, "text": {"field": "label"}}},
  {"data": {"values": [{"label": "A"}]}, "mark": {"type": "text", "fontSize": 21, "fontWeight": "bold", "baseline": "middle", "font": "Liberation Sans"}, "encoding": {"x": {"datum": -28.3}, "y": {"datum": 19.4}, "text": {"field": "label"}}}
 ]
},
{"width": 172, "height": 1, "mark": {"type": "rule", "opacity": 0}, "encoding": {}},
{
 "width": 228, "height": 216,
 "title": {"text": "B", "dx": -102, "offset": 11},
 "layer": [
  {"data": {"name": "sumB"}, "mark": {"type": "bar", "fill": "#ffffff", "strokeWidth": 2.5},
   "encoding": {
    "x": {"field": "c", "type": "nominal", "sort": null, "scale": {"domain": ["wt","wt CaM","wt CaMEF","I807S","I807S CaM","I807S CaMEF"], "paddingInner": 0.34, "paddingOuter": 0.17},
      "axis": {"title": null, "labelAngle": -45, "labelAlign": "right", "labelBaseline": "top", "tickSize": 8, "domainWidth": 2.5, "labelPadding": 2, "labelFontSize": 20}},
    "y": {"field": "m", "type": "quantitative", "scale": {"domain": [0, 0.8151], "nice": false},
      "axis": {"values": [0, 0.2, 0.4, 0.6, 0.8], "labelExpr": "(datum.value == 0 || datum.value == 0.4 || datum.value == 0.8) ? format(datum.value, '.1f') : ''", "labelOverlap": false, "tickSize": 8, "domainWidth": 2.5, "title": "Iₚₒₛₜ/Iₚᵣₑ", "titleFontSize": 22, "titleX": -59, "titleY": 97, "titleBaseline": "middle"}},
    "stroke": {"field": "c", "type": "nominal", "scale": {"domain": ["wt","wt CaM","wt CaMEF","I807S","I807S CaM","I807S CaMEF"], "range": ["#111111","#474747","#9a9a9a","#238b23","#16c916","#7df57d"]}, "legend": null}
   }},
  {"data": {"name": "sumB"}, "mark": {"type": "rule", "strokeWidth": 2.5}, "encoding": {"x": {"field": "c", "type": "nominal", "sort": null}, "y": {"field": "m", "type": "quantitative"}, "y2": {"field": "u"}, "stroke": {"field": "c", "type": "nominal", "legend": null}}},
  {"data": {"name": "sumB"}, "mark": {"type": "tick", "orient": "horizontal", "size": 14, "thickness": 2.5, "opacity": 1}, "encoding": {"x": {"field": "c", "type": "nominal", "sort": null}, "y": {"field": "u", "type": "quantitative"}, "color": {"field": "c", "type": "nominal", "scale": {"domain": ["wt","wt CaM","wt CaMEF","I807S","I807S CaM","I807S CaMEF"], "range": ["#111111","#474747","#9a9a9a","#238b23","#16c916","#7df57d"]}, "legend": null}}},
  {"data": {"name": "dotB"}, "mark": {"type": "circle", "size": 50, "opacity": 1},
   "encoding": {"x": {"field": "c", "type": "nominal", "sort": null}, "xOffset": {"field": "r", "type": "ordinal", "scale": {"domain": [1,2,3,4,5,6,7,8,9,10,11], "paddingOuter": 2}}, "y": {"field": "v", "type": "quantitative"},
    "fill": {"field": "c", "type": "nominal", "scale": {"domain": ["wt","wt CaM","wt CaMEF","I807S","I807S CaM","I807S CaMEF"], "range": ["#111111","#474747","#9a9a9a","#238b23","#16c916","#7df57d"]}, "legend": null}}},
  {"data": {"values": [{"s": "*"}]}, "mark": {"type": "rule", "strokeWidth": 2, "color": "#000"}, "encoding": {"x": {"datum": "wt", "bandPosition": 0.5}, "x2": {"datum": "wt CaMEF", "bandPosition": 0.5}, "y": {"datum": 0.525}}},
  {"data": {"values": [{"s": "*"}]}, "mark": {"type": "text", "fontSize": 20, "baseline": "middle", "font": "Liberation Sans"}, "encoding": {"x": {"datum": "wt CaM", "bandPosition": 0.5}, "y": {"datum": 0.546}, "text": {"field": "s"}}},
  {"data": {"values": [{"s": "*"}]}, "mark": {"type": "rule", "strokeWidth": 2, "color": "#000"}, "encoding": {"x": {"datum": "wt CaM", "bandPosition": 0.5}, "x2": {"datum": "wt CaMEF", "bandPosition": 0.5}, "y": {"datum": 0.622}}},
  {"data": {"values": [{"s": "*"}]}, "mark": {"type": "text", "fontSize": 20, "baseline": "middle", "font": "Liberation Sans"}, "encoding": {"x": {"datum": "wt CaM", "bandPosition": 1}, "y": {"datum": 0.667}, "text": {"field": "s"}}}
 ]
},
{"width": 118, "height": 1, "mark": {"type": "rule", "opacity": 0}, "encoding": {}},
{
 "width": 234, "height": 239,
 "layer": [
  {"data": {"name": "ivC"}, "mark": {"type": "line", "strokeWidth": 3},
   "encoding": {
    "x": {"field": "v", "type": "quantitative", "scale": {"domain": [-100, 100], "nice": false},
      "axis": {"values": [-100,-75,-50,-25,0,25,50,75,100], "labelExpr": "datum.value % 50 === 0 ? '' + datum.value : ''", "labelFlush": false, "labelOverlap": false, "offset": -110.5, "tickSize": 6, "labelPadding": 9, "title": "mV", "titleX": 0, "titleY": -17, "titleAlign": "left", "titleBaseline": "middle", "titleFontSize": 22}},
    "y": {"field": "i", "type": "quantitative", "scale": {"domain": [-1, 1.163], "nice": false},
      "axis": {"values": [-1,-0.75,-0.5,-0.25,0,0.25,0.5,0.75,1], "labelExpr": "datum.value == 1 ? '1.0' : datum.value == 0.5 ? '0.5' : datum.value == -0.5 ? '-0.5' : datum.value == -1 ? '-1.0' : ''", "labelOverlap": false, "domain": false, "offset": -117, "tickSize": 7, "labelPadding": 10, "title": "I/Iₘₐₓ", "titleX": -68, "titleY": 49, "titleAlign": "center", "titleBaseline": "middle", "titleFontSize": 21}},
    "stroke": {"field": "s", "type": "nominal", "scale": {"domain": ["wt","wt CaM","wt CaMEF"], "range": ["#1a1a1a","#5a5a5a","#9b9b9b"]}, "legend": null}
   }},
  {"data": {"values": [{"a": 1}]}, "mark": {"type": "rule", "strokeWidth": 2, "color": "#000"}, "encoding": {"x": {"datum": 0}, "y": {"datum": -1}, "y2": {"datum": 1}}},
  {"data": {"values": [{"label": "wt"}]}, "mark": {"type": "text", "align": "left", "baseline": "middle", "fontSize": 17, "color": "#222222", "font": "Liberation Sans"}, "encoding": {"x": {"datum": 13.7}, "y": {"datum": -0.43}, "text": {"field": "label"}}},
  {"data": {"values": [{"label": "wt CaM"}]}, "mark": {"type": "text", "align": "left", "baseline": "middle", "fontSize": 19, "color": "#6a6a6a", "font": "Liberation Sans"}, "encoding": {"x": {"datum": 13.7}, "y": {"datum": -0.62}, "text": {"field": "label"}}},
  {"data": {"values": [{"label": "wt CaMEF"}]}, "mark": {"type": "text", "align": "left", "baseline": "middle", "fontSize": 19, "color": "#a0a0a0", "font": "Liberation Sans"}, "encoding": {"x": {"datum": 13.7}, "y": {"datum": -0.864}, "text": {"field": "label"}}},
  {"data": {"values": [{"label": "C"}]}, "mark": {"type": "text", "fontSize": 21, "fontWeight": "bold", "baseline": "middle", "font": "Liberation Sans"}, "encoding": {"x": {"datum": -88.9}, "y": {"datum": 1.425}, "text": {"field": "label"}}}
 ]
},
{"width": 90, "height": 1, "mark": {"type": "rule", "opacity": 0}, "encoding": {}},
{
 "width": 211, "height": 239,
 "layer": [
  {"data": {"name": "ivD"}, "mark": {"type": "line", "strokeWidth": 3},
   "encoding": {
    "x": {"field": "v", "type": "quantitative", "scale": {"domain": [-100, 100], "nice": false},
      "axis": {"values": [-100,-75,-50,-25,0,25,50,75,100], "labelExpr": "datum.value % 50 === 0 ? '' + datum.value : ''", "labelFlush": false, "labelOverlap": false, "offset": -111.5, "tickSize": 6, "labelPadding": 9, "title": "mV", "titleX": 0, "titleY": -12, "titleAlign": "left", "titleBaseline": "middle", "titleFontSize": 22}},
    "y": {"field": "i", "type": "quantitative", "scale": {"domain": [-1, 1.1435], "nice": false},
      "axis": {"values": [-1,-0.75,-0.5,-0.25,0,0.25,0.5,0.75,1], "labelExpr": "datum.value == 1 ? '1.0' : datum.value == 0.5 ? '0.5' : datum.value == -0.5 ? '-0.5' : datum.value == -1 ? '-1.0' : ''", "labelOverlap": false, "domain": false, "offset": -105.5, "tickSize": 7, "labelPadding": 10, "title": "I/Iₘₐₓ", "titleX": -62, "titleY": 41, "titleAlign": "center", "titleBaseline": "middle", "titleFontSize": 21}},
    "stroke": {"field": "s", "type": "nominal", "scale": {"domain": ["I807S","I807S CaMEF","I807S CaM"], "range": ["#1f7a1f","#2db82d","#5ef05e"]}, "legend": null}
   }},
  {"data": {"values": [{"a": 1}]}, "mark": {"type": "rule", "strokeWidth": 2, "color": "#000"}, "encoding": {"x": {"datum": 0}, "y": {"datum": -1}, "y2": {"datum": 1}}},
  {"data": {"values": [{"label": "I807S CaM"}]}, "mark": {"type": "text", "align": "left", "baseline": "middle", "fontSize": 20, "color": "#44dd44", "font": "Liberation Sans"}, "encoding": {"x": {"datum": 87.7}, "y": {"datum": 0.121}, "text": {"field": "label"}}},
  {"data": {"values": [{"label": "I807S CaMEF"}]}, "mark": {"type": "text", "align": "left", "baseline": "middle", "fontSize": 20, "color": "#2aa52a", "font": "Liberation Sans"}, "encoding": {"x": {"datum": 87.7}, "y": {"datum": -0.121}, "text": {"field": "label"}}},
  {"data": {"values": [{"label": "I807S"}]}, "mark": {"type": "text", "align": "left", "baseline": "middle", "fontSize": 20, "color": "#5f8a30", "font": "Liberation Sans"}, "encoding": {"x": {"datum": 87.7}, "y": {"datum": -0.354}, "text": {"field": "label"}}},
  {"data": {"values": [{"label": "I807S CaM"}]}, "mark": {"type": "text", "align": "left", "baseline": "middle", "fontSize": 20, "color": "#44dd44", "font": "Liberation Sans"}, "encoding": {"x": {"datum": 2.4}, "y": {"datum": -0.48}, "text": {"field": "label"}}},
  {"data": {"values": [{"label": "I807S CaMEF"}]}, "mark": {"type": "text", "align": "left", "baseline": "middle", "fontSize": 20, "color": "#2aa52a", "font": "Liberation Sans"}, "encoding": {"x": {"datum": 2.4}, "y": {"datum": -0.73}, "text": {"field": "label"}}},
  {"data": {"values": [{"label": "I807S"}]}, "mark": {"type": "text", "align": "left", "baseline": "middle", "fontSize": 20, "color": "#5f8a30", "font": "Liberation Sans"}, "encoding": {"x": {"datum": 2.4}, "y": {"datum": -0.973}, "text": {"field": "label"}}},
  {"data": {"values": [{"label": "D"}]}, "mark": {"type": "text", "fontSize": 21, "fontWeight": "bold", "baseline": "middle", "font": "Liberation Sans"}, "encoding": {"x": {"datum": -114}, "y": {"datum": 1.4}, "text": {"field": "label"}}}
 ]
},
{"width": 163, "height": 1, "mark": {"type": "rule", "opacity": 0}, "encoding": {}},
{
 "width": 208, "height": 194,
 "title": {"text": "E", "dx": -134, "offset": -9.5},
 "layer": [
  {"data": {"name": "sumE"}, "mark": {"type": "bar", "fill": "#ffffff", "strokeWidth": 2.5},
   "encoding": {
    "x": {"field": "c", "type": "nominal", "sort": null, "scale": {"domain": ["wt","wt CaM","wt CaMEF","I807S","I807S CaM","I807S CaMEF"], "paddingInner": 0.3, "paddingOuter": 0.15},
      "axis": {"title": null, "labelAngle": -45, "labelAlign": "right", "labelBaseline": "top", "tickSize": 11, "domainWidth": 2.5, "labelPadding": 2, "labelFontSize": 18}},
    "y": {"field": "m", "type": "quantitative", "scale": {"domain": [0, 0.8], "nice": false},
      "axis": {"values": [0, 0.2, 0.4, 0.6, 0.8], "labelExpr": "(datum.value == 0 || datum.value == 0.4 || datum.value == 0.8) ? format(datum.value, '.1f') : ''", "labelOverlap": false, "tickSize": 11, "domainWidth": 2.5, "labelPadding": 20, "labelFontSize": 18, "labelColor": "#333333", "title": "(I₋₈₀ₘᵥ/I₊₈₀ₘᵥ)", "titleFontSize": 13, "titleColor": "#333333", "titleX": -72, "titleY": 97, "titleBaseline": "middle"}},
    "stroke": {"field": "c", "type": "nominal", "scale": {"domain": ["wt","wt CaM","wt CaMEF","I807S","I807S CaM","I807S CaMEF"], "range": ["#111111","#555555","#a9a9a9","#1e8c1e","#12c812","#8ef08e"]}, "legend": null}
   }},
  {"data": {"name": "sumE"}, "mark": {"type": "rule", "strokeWidth": 2.5}, "encoding": {"x": {"field": "c", "type": "nominal", "sort": null}, "y": {"field": "m", "type": "quantitative"}, "y2": {"field": "u"}, "stroke": {"field": "c", "type": "nominal", "legend": null}}},
  {"data": {"name": "sumE"}, "mark": {"type": "tick", "orient": "horizontal", "size": 13, "thickness": 2.5, "opacity": 1}, "encoding": {"x": {"field": "c", "type": "nominal", "sort": null}, "y": {"field": "u", "type": "quantitative"}, "color": {"field": "c", "type": "nominal", "scale": {"domain": ["wt","wt CaM","wt CaMEF","I807S","I807S CaM","I807S CaMEF"], "range": ["#111111","#555555","#a9a9a9","#1e8c1e","#12c812","#8ef08e"]}, "legend": null}}},
  {"data": {"name": "dotE"}, "mark": {"type": "circle", "size": 42, "opacity": 1},
   "encoding": {"x": {"field": "c", "type": "nominal", "sort": null}, "xOffset": {"field": "r", "type": "ordinal", "scale": {"domain": [1,2,3,4,5,6,7,8,9,10,11], "paddingOuter": 1.5}}, "y": {"field": "v", "type": "quantitative"},
    "fill": {"field": "c", "type": "nominal", "scale": {"domain": ["wt","wt CaM","wt CaMEF","I807S","I807S CaM","I807S CaMEF"], "range": ["#111111","#555555","#a9a9a9","#1e8c1e","#12c812","#8ef08e"]}, "legend": null}}},
  {"data": {"values": [{"s": "*"}]}, "mark": {"type": "rule", "strokeWidth": 2, "color": "#000"}, "encoding": {"x": {"datum": "wt", "bandPosition": 0.5}, "x2": {"datum": "wt CaMEF", "bandPosition": 0.5}, "y": {"datum": 0.793}}},
  {"data": {"values": [{"s": "*"}]}, "mark": {"type": "text", "fontSize": 20, "baseline": "middle", "font": "Liberation Sans"}, "encoding": {"x": {"datum": "wt CaM", "bandPosition": 0.5}, "y": {"datum": 0.84}, "text": {"field": "s"}}},
  {"data": {"values": [{"s": "*"}]}, "mark": {"type": "rule", "strokeWidth": 2, "color": "#000"}, "encoding": {"x": {"datum": "wt CaM", "bandPosition": 0.5}, "x2": {"datum": "wt CaMEF", "bandPosition": 0.5}, "y": {"datum": 0.686}}},
  {"data": {"values": [{"s": "*"}]}, "mark": {"type": "text", "fontSize": 20, "baseline": "middle", "font": "Liberation Sans"}, "encoding": {"x": {"datum": "wt CaM", "bandPosition": 1}, "y": {"datum": 0.73}, "text": {"field": "s"}}}
 ]
},

{"width": 1, "height": 197, "mark": {"type": "rule", "opacity": 0}, "encoding": {}},
{"width": 1, "height": 197, "mark": {"type": "rule", "opacity": 0}, "encoding": {}},
{"width": 1, "height": 197, "mark": {"type": "rule", "opacity": 0}, "encoding": {}},
{"width": 1, "height": 197, "mark": {"type": "rule", "opacity": 0}, "encoding": {}},
{"width": 1, "height": 197, "mark": {"type": "rule", "opacity": 0}, "encoding": {}},
{"width": 1, "height": 197, "mark": {"type": "rule", "opacity": 0}, "encoding": {}},
{"width": 1, "height": 197, "mark": {"type": "rule", "opacity": 0}, "encoding": {}},
{"width": 1, "height": 197, "mark": {"type": "rule", "opacity": 0}, "encoding": {}},
{"width": 1, "height": 197, "mark": {"type": "rule", "opacity": 0}, "encoding": {}},
{"width": 1, "height": 197, "mark": {"type": "rule", "opacity": 0}, "encoding": {}},

{"width": 80, "height": 1, "mark": {"type": "rule", "opacity": 0}, "encoding": {}},
{
 "width": 246, "height": 257,
 "layer": [
  {"data": {"name": "tcF"}, "mark": {"type": "line", "strokeWidth": 2, "point": {"filled": true, "size": 50}},
   "encoding": {
    "x": {"field": "t", "type": "quantitative", "scale": {"domain": [0, 140], "nice": false},
      "axis": {"values": [0,17.5,35,52.5,70,87.5,105,122.5,140], "labelExpr": "datum.value % 35 === 0 ? datum.label : ''", "labelFlush": false, "labelOverlap": false, "tickSize": 6, "title": "Time (s)", "titleFontSize": 22, "titleX": 119, "titleY": 46, "titleBaseline": "middle"}},
    "y": {"field": "v", "type": "quantitative", "scale": {"domain": [-141, 5], "nice": false},
      "axis": {"values": [0, -50, -100], "labelExpr": "'' + datum.value", "labelOverlap": false, "title": "Relative Current", "titleFontSize": 23, "titleX": -62, "titleY": 121, "titleBaseline": "middle"}},
    "color": {"field": "s", "type": "nominal", "scale": {"domain": ["wt","wt+CMZ","I807S","I807S+CMZ"], "range": ["#222222","#555555","#1e8a1e","#2bdc2b"]}, "legend": {"title": null, "orient": "none", "legendX": 187, "legendY": 126, "labelFontSize": 20, "symbolSize": 80, "rowPadding": 15, "labelOffset": 6, "padding": 0}},
    "shape": {"field": "s", "type": "nominal", "scale": {"domain": ["wt","wt+CMZ","I807S","I807S+CMZ"], "range": ["square","circle","square","circle"]}, "legend": {"title": null, "orient": "none", "legendX": 187, "legendY": 126, "labelFontSize": 20, "symbolSize": 80, "rowPadding": 15, "labelOffset": 6, "padding": 0}}
   }},
  {"data": {"values": [{"t0": 110.4, "t1": 133.2}]}, "mark": {"type": "rule", "strokeWidth": 2, "color": "#000"}, "encoding": {"x": {"field": "t0", "type": "quantitative"}, "x2": {"field": "t1"}, "y": {"datum": 51.7}}},
  {"data": {"values": [{"label": "NMDG", "tm": 123.5}]}, "mark": {"type": "text", "fontSize": 22, "baseline": "middle", "font": "Liberation Sans"}, "encoding": {"x": {"field": "tm", "type": "quantitative"}, "y": {"datum": 58.5}, "text": {"field": "label"}}},
  {"data": {"values": [{"t0": 31.3, "t1": 130.3}]}, "mark": {"type": "rule", "strokeWidth": 2, "color": "#000"}, "encoding": {"x": {"field": "t0", "type": "quantitative"}, "x2": {"field": "t1"}, "y": {"datum": 26.1}}},
  {"data": {"values": [{"label": "100 µM CCH", "tm": 81.4}]}, "mark": {"type": "text", "fontSize": 22, "baseline": "middle", "font": "Liberation Sans"}, "encoding": {"x": {"field": "tm", "type": "quantitative"}, "y": {"datum": 35.2}, "text": {"field": "label"}}},
  {"data": {"values": [{"t0": 51.2, "t1": 111}]}, "mark": {"type": "rule", "strokeWidth": 2, "color": "#000"}, "encoding": {"x": {"field": "t0", "type": "quantitative"}, "x2": {"field": "t1"}, "y": {"datum": 6.25}}},
  {"data": {"values": [{"label": "2 mM Ca²⁺", "tm": 88.8}]}, "mark": {"type": "text", "fontSize": 22, "baseline": "middle", "font": "Liberation Sans"}, "encoding": {"x": {"field": "tm", "type": "quantitative"}, "y": {"datum": 15.3}, "text": {"field": "label"}}},
  {"data": {"values": [{"label": "F"}]}, "mark": {"type": "text", "fontSize": 21, "fontWeight": "bold", "baseline": "middle", "font": "Liberation Sans"}, "encoding": {"x": {"datum": -29}, "y": {"datum": 6.8}, "text": {"field": "label"}}}
 ]
},
{"width": 172, "height": 1, "mark": {"type": "rule", "opacity": 0}, "encoding": {}},
{
 "width": 248, "height": 241,
 "title": {"text": "G", "dx": -63, "offset": -8},
 "resolve": {"scale": {"x": "independent"}, "axis": {"x": "independent"}},
 "layer": [
  {"layer": [
  {"data": {"name": "sumG"}, "mark": {"type": "bar", "fill": "#ffffff", "strokeWidth": 2.5},
   "encoding": {
    "x": {"field": "c", "type": "nominal", "sort": null, "scale": {"domain": ["wt","wt+CMZ","I807S","I807S+CMZ"], "paddingInner": 0.37, "paddingOuter": 0.185},
      "axis": {"title": null, "labelAngle": -45, "labelAlign": "right", "labelBaseline": "top", "tickSize": 8, "domainWidth": 2.5, "labelPadding": 2, "labelFontSize": 20}},
    "y": {"field": "m", "type": "quantitative", "scale": {"domain": [0, 1.0524], "nice": false},
      "axis": {"values": [0, 0.2, 0.4, 0.6, 0.8], "labelExpr": "(datum.value == 0 || datum.value == 0.4 || datum.value == 0.8) ? format(datum.value, '.1f') : ''", "labelOverlap": false, "domain": false, "tickSize": 8, "title": "Iₚₒₛₜ/Iₚᵣₑ", "titleFontSize": 22, "titleX": -64, "titleY": 116, "titleBaseline": "middle"}},
    "stroke": {"field": "c", "type": "nominal", "scale": {"domain": ["wt","wt+CMZ","I807S","I807S+CMZ"], "range": ["#111111","#444444","#1f8f1f","#22d322"]}, "legend": null}
   }},
  {"data": {"name": "sumG"}, "mark": {"type": "rule", "strokeWidth": 2.5}, "encoding": {"x": {"field": "c", "type": "nominal", "sort": null}, "y": {"field": "m", "type": "quantitative"}, "y2": {"field": "u"}, "stroke": {"field": "c", "type": "nominal", "legend": null}}},
  {"data": {"name": "sumG"}, "mark": {"type": "tick", "orient": "horizontal", "size": 16, "thickness": 2.5, "opacity": 1}, "encoding": {"x": {"field": "c", "type": "nominal", "sort": null}, "y": {"field": "u", "type": "quantitative"}, "color": {"field": "c", "type": "nominal", "scale": {"domain": ["wt","wt+CMZ","I807S","I807S+CMZ"], "range": ["#111111","#444444","#1f8f1f","#22d322"]}, "legend": null}}},
  {"data": {"name": "dotG"}, "mark": {"type": "circle", "size": 50, "opacity": 1},
   "encoding": {"x": {"field": "c", "type": "nominal", "sort": null}, "xOffset": {"field": "r", "type": "ordinal", "scale": {"domain": [1,2,3,4,5,6,7,8,9,10,11], "paddingOuter": 2}}, "y": {"field": "v", "type": "quantitative"},
    "fill": {"field": "c", "type": "nominal", "scale": {"domain": ["wt","wt+CMZ","I807S","I807S+CMZ"], "range": ["#111111","#444444","#1f8f1f","#22d322"]}, "legend": null}}},
  {"data": {"values": [{"s": "**"}]}, "mark": {"type": "rule", "strokeWidth": 2, "color": "#000"}, "encoding": {"x": {"datum": "wt", "bandPosition": 0.5}, "x2": {"datum": "wt+CMZ", "bandPosition": 0.5}, "y": {"datum": 0.677}}},
  {"data": {"values": [{"s": "**"}]}, "mark": {"type": "text", "fontSize": 20, "baseline": "middle", "font": "Liberation Sans"}, "encoding": {"x": {"datum": "wt", "bandPosition": 1}, "y": {"datum": 0.74}, "text": {"field": "s"}}}
  ]},
  {"data": {"values": [{"a": 1}]}, "mark": {"type": "rule", "strokeWidth": 2.5, "color": "#000"}, "encoding": {"x": {"datum": 0, "type": "quantitative", "scale": {"domain": [0, 1]}, "axis": null}, "y": {"datum": 0}, "y2": {"datum": 1}}}
 ]
},
{"width": 114, "height": 1, "mark": {"type": "rule", "opacity": 0}, "encoding": {}},
{
 "width": 242, "height": 267,
 "layer": [
  {"data": {"name": "ivH"}, "mark": {"type": "line", "strokeWidth": 3},
   "encoding": {
    "x": {"field": "v", "type": "quantitative", "scale": {"domain": [-100, 100], "nice": false},
      "axis": {"values": [-100,-75,-50,-25,0,25,50,75,100], "labelExpr": "(datum.value % 50 === 0 && datum.value !== 0) ? '' + datum.value : ''", "labelFlush": false, "labelOverlap": false, "offset": -110, "tickSize": 6, "labelPadding": 9, "title": "mV", "titleX": -11, "titleY": -14, "titleAlign": "left", "titleBaseline": "middle", "titleFontSize": 22}},
    "y": {"field": "i", "type": "quantitative", "scale": {"domain": [-1, 1.427], "nice": false},
      "axis": {"values": [-1,-0.75,-0.5,-0.25,0,0.25,0.5,0.75,1], "labelExpr": "datum.value == 1 ? '1.0' : datum.value == 0.5 ? '0.5' : datum.value == -0.5 ? '-0.5' : datum.value == -1 ? '-1.0' : ''", "labelOverlap": false, "domain": false, "offset": -121, "tickSize": 7, "labelPadding": 10, "title": "I/Iₘₐₓ", "titleX": -66, "titleY": 103, "titleAlign": "center", "titleBaseline": "middle", "titleFontSize": 21}},
    "stroke": {"field": "s", "type": "nominal", "scale": {"domain": ["wt","wt CMZ"], "range": ["#3a3a3a","#454545"]}, "legend": null}
   }},
  {"data": {"values": [{"a": 1}]}, "mark": {"type": "rule", "strokeWidth": 2, "color": "#000"}, "encoding": {"x": {"datum": 0}, "y": {"datum": -1}, "y2": {"datum": 1}}},
  {"data": {"values": [{"label": "wt"}]}, "mark": {"type": "text", "align": "left", "baseline": "middle", "fontSize": 16, "color": "#333333", "font": "Liberation Sans"}, "encoding": {"x": {"datum": 9.1}, "y": {"datum": -0.41}, "text": {"field": "label"}}},
  {"data": {"values": [{"label": "wt CMZ"}]}, "mark": {"type": "text", "align": "left", "baseline": "middle", "fontSize": 19, "color": "#333333", "font": "Liberation Sans"}, "encoding": {"x": {"datum": 9.1}, "y": {"datum": -0.6}, "text": {"field": "label"}}},
  {"data": {"values": [{"label": "H"}]}, "mark": {"type": "text", "fontSize": 21, "fontWeight": "bold", "baseline": "middle", "font": "Liberation Sans"}, "encoding": {"x": {"datum": -73.6}, "y": {"datum": 1.455}, "text": {"field": "label"}}}
 ]
},
{"width": 88, "height": 1, "mark": {"type": "rule", "opacity": 0}, "encoding": {}},
{
 "width": 230, "height": 265,
 "layer": [
  {"data": {"name": "ivI"}, "mark": {"type": "line", "strokeWidth": 3},
   "encoding": {
    "x": {"field": "v", "type": "quantitative", "scale": {"domain": [-100, 100], "nice": false},
      "axis": {"values": [-100,-75,-50,-25,0,25,50,75,100], "labelExpr": "(datum.value % 50 === 0 && datum.value !== 0) ? '' + datum.value : ''", "labelFlush": false, "labelOverlap": false, "offset": -109.5, "tickSize": 6, "labelPadding": 9, "title": "mv", "titleX": -11, "titleY": -11, "titleAlign": "left", "titleBaseline": "middle", "titleFontSize": 22}},
    "y": {"field": "i", "type": "quantitative", "scale": {"domain": [-1, 1.42], "nice": false},
      "axis": {"values": [-1,-0.75,-0.5,-0.25,0,0.25,0.5,0.75,1], "labelExpr": "datum.value == 1 ? '1.0' : datum.value == 0.5 ? '0.5' : datum.value == -0.5 ? '-0.5' : datum.value == -1 ? '-1.0' : ''", "labelOverlap": false, "domain": false, "offset": -115, "tickSize": 7, "labelPadding": 10, "title": "I/Iₘₐₓ", "titleX": -64, "titleY": 73, "titleAlign": "center", "titleBaseline": "middle", "titleFontSize": 21}},
    "stroke": {"field": "s", "type": "nominal", "scale": {"domain": ["I807S","1uM CMZ"], "range": ["#1f7f1f","#3ed63e"]}, "legend": null}
   }},
  {"data": {"values": [{"a": 1}]}, "mark": {"type": "rule", "strokeWidth": 2, "color": "#000"}, "encoding": {"x": {"datum": 0}, "y": {"datum": -1}, "y2": {"datum": 1}}},
  {"data": {"values": [{"label": "I807S"}]}, "mark": {"type": "text", "align": "left", "baseline": "middle", "fontSize": 20, "color": "#6b8e23", "font": "Liberation Sans"}, "encoding": {"x": {"datum": 9.6}, "y": {"datum": -0.607}, "text": {"field": "label"}}},
  {"data": {"values": [{"label": "1uM CMZ"}]}, "mark": {"type": "text", "align": "left", "baseline": "middle", "fontSize": 20, "color": "#33cc33", "font": "Liberation Sans"}, "encoding": {"x": {"datum": 9.6}, "y": {"datum": -0.8}, "text": {"field": "label"}}},
  {"data": {"values": [{"label": "I"}]}, "mark": {"type": "text", "fontSize": 21, "fontWeight": "bold", "baseline": "middle", "font": "Liberation Sans"}, "encoding": {"x": {"datum": -89.6}, "y": {"datum": 1.447}, "text": {"field": "label"}}}
 ]
},
{"width": 163, "height": 1, "mark": {"type": "rule", "opacity": 0}, "encoding": {}},
{
 "width": 209, "height": 240,
 "title": {"text": "J", "dx": -84, "offset": -8},
 "resolve": {"scale": {"x": "independent"}, "axis": {"x": "independent"}},
 "layer": [
  {"layer": [
  {"data": {"name": "sumJ"}, "mark": {"type": "bar", "fill": "#ffffff", "strokeWidth": 2.5},
   "encoding": {
    "x": {"field": "c", "type": "nominal", "sort": null, "scale": {"domain": ["wt","I807S","wt+CMZ","I807S+CMZ"], "paddingInner": 0.35, "paddingOuter": 0.175},
      "axis": {"title": null, "labelAngle": -45, "labelAlign": "right", "labelBaseline": "top", "tickSize": 11, "domainWidth": 2.5, "labelPadding": 2, "labelFontSize": 16}},
    "y": {"field": "m", "type": "quantitative", "scale": {"domain": [0, 1.2308], "nice": false},
      "axis": {"values": [0, 0.2, 0.4, 0.6, 0.8], "labelExpr": "(datum.value == 0 || datum.value == 0.4 || datum.value == 0.8) ? format(datum.value, '.1f') : ''", "labelOverlap": false, "domain": false, "tickSize": 11, "labelPadding": 13, "labelFontSize": 18, "labelColor": "#333333", "title": "(I₋₈₀ₘᵥ/I₊₈₀ₘᵥ)", "titleFontSize": 13, "titleColor": "#333333", "titleX": -72, "titleY": 135, "titleBaseline": "middle"}},
    "stroke": {"field": "c", "type": "nominal", "scale": {"domain": ["wt","I807S","wt+CMZ","I807S+CMZ"], "range": ["#111111","#555555","#1e8c1e","#22cc22"]}, "legend": null}
   }},
  {"data": {"name": "sumJ"}, "mark": {"type": "rule", "strokeWidth": 2.5}, "encoding": {"x": {"field": "c", "type": "nominal", "sort": null}, "y": {"field": "m", "type": "quantitative"}, "y2": {"field": "u"}, "stroke": {"field": "c", "type": "nominal", "legend": null}}},
  {"data": {"name": "sumJ"}, "mark": {"type": "tick", "orient": "horizontal", "size": 14, "thickness": 2.5, "opacity": 1}, "encoding": {"x": {"field": "c", "type": "nominal", "sort": null}, "y": {"field": "u", "type": "quantitative"}, "color": {"field": "c", "type": "nominal", "scale": {"domain": ["wt","I807S","wt+CMZ","I807S+CMZ"], "range": ["#111111","#555555","#1e8c1e","#22cc22"]}, "legend": null}}},
  {"data": {"name": "dotJ"}, "mark": {"type": "circle", "size": 42, "opacity": 1},
   "encoding": {"x": {"field": "c", "type": "nominal", "sort": null}, "xOffset": {"field": "r", "type": "ordinal", "scale": {"domain": [1,2,3,4,5,6,7,8,9,10,11], "paddingOuter": 1.5}}, "y": {"field": "v", "type": "quantitative"},
    "fill": {"field": "c", "type": "nominal", "scale": {"domain": ["wt","I807S","wt+CMZ","I807S+CMZ"], "range": ["#111111","#555555","#1e8c1e","#22cc22"]}, "legend": null}}},
  {"data": {"values": [{"s": "*"}]}, "mark": {"type": "rule", "strokeWidth": 2, "color": "#000"}, "encoding": {"x": {"datum": "wt", "bandPosition": 0.5}, "x2": {"datum": "I807S", "bandPosition": 0.5}, "y": {"datum": 0.716}}},
  {"data": {"values": [{"s": "*"}]}, "mark": {"type": "text", "fontSize": 20, "baseline": "middle", "font": "Liberation Sans"}, "encoding": {"x": {"datum": "wt", "bandPosition": 1}, "y": {"datum": 0.775}, "text": {"field": "s"}}}
  ]},
  {"data": {"values": [{"a": 1}]}, "mark": {"type": "rule", "strokeWidth": 2.5, "color": "#000"}, "encoding": {"x": {"datum": 0, "type": "quantitative", "scale": {"domain": [0, 1]}, "axis": null}, "y": {"datum": 0}, "y2": {"datum": 1}}}
 ]
}
]
}
